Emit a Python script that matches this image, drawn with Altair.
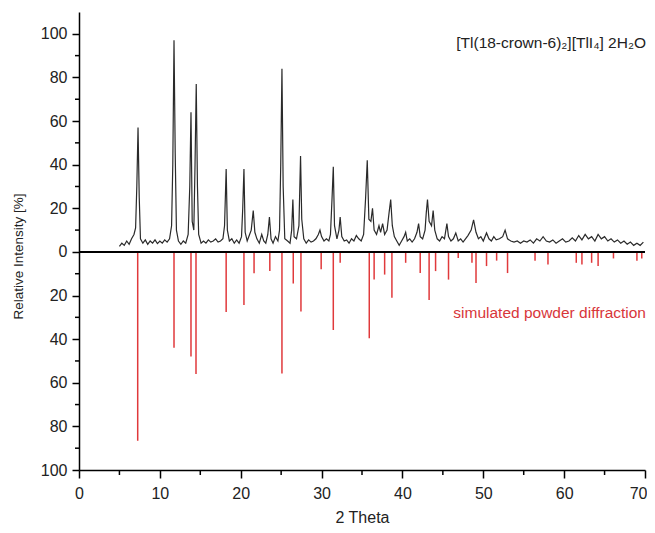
import altair as alt
import pandas as pd

# ---------------- data ----------------
exp_theta = [5.0, 5.3, 5.6, 5.9, 6.2, 6.5, 6.8, 7.0, 7.15, 7.3, 7.45, 7.6, 7.9, 8.2, 8.5, 8.8,
             9.1, 9.4, 9.7, 10.0, 10.3, 10.6, 10.9, 11.2, 11.45, 11.6, 11.75, 11.9, 12.05, 12.3,
             12.6, 12.9, 13.2, 13.5, 13.7, 13.85, 14.0, 14.2, 14.35, 14.5, 14.65, 14.8, 15.1,
             15.4, 15.7, 16.0, 16.3, 16.6, 16.9, 17.2, 17.5, 17.8, 18.0, 18.2, 18.35, 18.6, 18.9,
             19.2, 19.5, 19.8, 20.1, 20.25, 20.4, 20.55, 20.8, 21.1, 21.3, 21.55, 21.75, 22.0,
             22.3, 22.6, 22.85, 23.1, 23.35, 23.55, 23.75, 24.0, 24.3, 24.6, 24.8, 24.95, 25.1,
             25.25, 25.45, 25.8, 26.1, 26.3, 26.45, 26.6, 26.9, 27.2, 27.4, 27.55, 27.8, 28.1,
             28.4, 28.7, 29.0, 29.3, 29.6, 29.8, 30.0, 30.3, 30.6, 30.9, 31.1, 31.3, 31.45, 31.6,
             31.9, 32.15, 32.3, 32.5, 32.8, 33.1, 33.4, 33.7, 34.0, 34.3, 34.6, 34.9, 35.2, 35.45,
             35.65, 35.85, 36.1, 36.3, 36.5, 36.8, 37.1, 37.3, 37.55, 37.8, 38.1, 38.35, 38.55,
             38.75, 39.0, 39.3, 39.6, 39.9, 40.2, 40.4, 40.6, 40.9, 41.2, 41.5, 41.8, 42.0, 42.2,
             42.5, 42.8, 42.95, 43.1, 43.3, 43.6, 43.8, 44.0, 44.3, 44.6, 44.9, 45.2, 45.5, 45.7,
             46.0, 46.3, 46.6, 46.9, 47.2, 47.5, 47.8, 48.1, 48.5, 48.8, 49.1, 49.4, 49.7, 50.0,
             50.4, 50.7, 51.0, 51.3, 51.6, 52.0, 52.4, 52.7, 53.0, 53.4, 53.8, 54.2, 54.6, 55.0,
             55.4, 55.8, 56.2, 56.6, 57.0, 57.4, 57.8, 58.2, 58.6, 59.0, 59.4, 59.8, 60.2, 60.6,
             61.0, 61.4, 61.8, 62.2, 62.6, 63.0, 63.4, 63.8, 64.2, 64.6, 65.0, 65.4, 65.8, 66.2,
             66.6, 67.0, 67.4, 67.8, 68.2, 68.6, 69.0, 69.4, 69.8]
exp_int = [2.5, 4.0, 3.0, 5.0, 3.5, 6.0, 8.0, 11, 30, 57, 25, 6, 4, 5.5, 3.5, 5,
           4, 5.5, 3.8, 5, 4, 5.5, 4.5, 6, 12, 40, 97, 45, 10, 5,
           3.5, 5, 4, 8, 30, 64, 14, 10, 40, 77, 30, 8, 4,
           5, 4, 5.5, 4.5, 5, 6, 4.5, 5, 6, 12, 38, 10, 5, 6,
           4, 5.5, 4, 7, 20, 38, 9, 5, 8, 10, 19, 9, 6,
           4, 8, 5, 4, 8, 16, 6, 4, 7, 5, 10, 40, 84,
           30, 6, 5, 4, 10, 24, 7, 6, 12, 44, 15, 6, 4,
           5.5, 4.5, 5, 6, 8, 10, 7, 5, 6, 5, 8, 25, 39, 12,
           6, 10, 16, 7, 5, 5.5, 4, 6, 5, 7.5, 6, 5, 8, 25,
           42, 15, 14, 20, 10, 8, 12, 9, 13, 8, 10, 18, 24,
           12, 7, 5, 3, 5, 7, 9, 5, 6, 4.5, 6, 9, 13, 7,
           6, 10, 18, 24, 14, 12, 19, 10, 6, 5, 7, 6, 13, 7,
           5, 6, 8.7, 5, 6, 4.5, 6, 7.5, 10, 14.7, 9, 6, 7, 5,
           8.7, 6, 5, 7, 5.5, 6, 7, 10, 6, 5, 4.5, 5, 4, 5,
           4.5, 5.5, 4, 6, 5, 7, 5, 4.5, 5.5, 4, 5, 6, 4.5, 5,
           6.5, 5, 7.5, 5.5, 8, 6, 7, 5, 8, 6, 7, 5, 6, 4.5,
           5.5, 4, 5, 3.5, 4.5, 3, 4, 3, 4.5]

sim_theta = [7.26, 11.75, 13.85, 14.47, 18.2, 20.4, 21.65, 23.6, 25.1, 26.5, 27.45, 29.95,
             31.45, 32.3, 35.9, 36.5, 37.8, 38.7, 40.4, 42.2, 43.3, 44.1, 45.7, 46.9, 48.6,
             49.1, 50.4, 51.65, 53.0, 56.4, 58.0, 61.5, 62.2, 63.4, 64.2, 66.1, 69.0, 69.6]
sim_int = [86.6, 44, 48, 56, 27.5, 24.4, 9.8, 8.7, 55.8, 14.5, 27.3, 8,
           35.8, 5, 39.6, 12.7, 10.4, 21, 5, 9.7, 22, 8.8, 12.7, 2.8, 5,
           14.3, 6.5, 4, 9.7, 4, 5.8, 5, 5.8, 5, 6.5, 3, 4, 3]

x_major = [0, 10, 20, 30, 40, 50, 60, 70]
x_minor = [5, 15, 25, 35, 45, 55, 65]
y_major = [-100, -80, -60, -40, -20, 0, 20, 40, 60, 80, 100]
y_minor = [-90, -70, -50, -30, -10, 10, 30, 50, 70, 90]

formula_text = "[Tl(18-crown-6)\u2082][TlI\u2084] 2H\u2082O"
sim_label = "simulated powder diffraction"
x_title = "2 Theta"
y_title = "Relative Intensity [%]"

# ---------------- chart ----------------
W, H = 566, 458
FONT = "Liberation Sans"
TXT = "#222222"

exp_df = pd.DataFrame({"theta": exp_theta, "intensity": exp_int})
sim_df = pd.DataFrame({"theta": sim_theta, "neg": [-v for v in sim_int]})

xscale = alt.Scale(domain=[0, 70], nice=False, zero=False)
yscale = alt.Scale(domain=[-100, 110], nice=False, zero=False)

last_x = x_major[-1]
xaxis = alt.Axis(title=x_title, values=x_major, format="d", grid=False, labelFlush=False,
                 labelAlign={"condition": {"test": f"datum.value == {last_x}", "value": "right"},
                             "value": "center"},
                 labelOffset={"condition": {"test": f"datum.value == {last_x}", "value": 2},
                              "value": 0},
                 domainColor="black", domainWidth=1.5, tickColor="black", tickWidth=1.5,
                 tickSize=8, labelPadding=7, labelFont=FONT, labelFontSize=16, labelColor=TXT,
                 titleFont=FONT, titleFontSize=16, titleFontWeight="normal", titleColor=TXT,
                 titleBaseline="middle", titleY=47)
yaxis = alt.Axis(title=y_title, values=y_major, labelExpr="format(abs(datum.value), 'd')",
                 grid=False, labelFlush=False, domainColor="black", domainWidth=1.5,
                 tickColor="black", tickWidth=1.5, tickSize=7, labelPadding=5, labelFont=FONT,
                 labelFontSize=16, labelColor=TXT, titleFont=FONT, titleFontSize=13.5,
                 titleFontWeight="normal", titleColor=TXT, titleBaseline="middle",
                 titleX=-61, titleY=244)

X = lambda f: alt.X(f, scale=xscale, axis=xaxis)
Y = lambda f: alt.Y(f, scale=yscale, axis=yaxis)

sticks = alt.Chart(sim_df).mark_rule(color="#e0393b", strokeWidth=1.5).encode(
    x=X("theta:Q"),
    y=Y("neg:Q"),
    y2=alt.datum(0),
)

zero_line = alt.Chart(sim_df).mark_rule(color="black", strokeWidth=2).encode(
    x=alt.X("min_t:Q", scale=xscale, axis=xaxis),
    x2="max_t:Q",
    y=alt.Y("zero:Q", scale=yscale, axis=yaxis),
).transform_calculate(min_t="0", max_t="70", zero="0")

exp_line = alt.Chart(exp_df).mark_line(color="#2a2a2a", strokeWidth=1.2).encode(
    x=X("theta:Q"),
    y=Y("intensity:Q"),
)

y_minor_ticks = alt.Chart(pd.DataFrame({"v": y_minor})).mark_rule(
    color="black", strokeWidth=1.5).encode(
    y=Y("v:Q"),
    x=alt.value(-4), x2=alt.value(0),
)
x_minor_ticks = alt.Chart(pd.DataFrame({"v": x_minor})).mark_rule(
    color="black", strokeWidth=1.5).encode(
    x=X("v:Q"),
    y=alt.value(H), y2=alt.value(H + 5),
)

formula = alt.Chart(pd.DataFrame({"t": [formula_text]})).mark_text(
    align="right", baseline="middle", font=FONT, fontSize=15.5, color=TXT).encode(
    text="t:N", x=alt.value(W + 1), y=alt.value(31),
)
sim_text = alt.Chart(pd.DataFrame({"t": [sim_label]})).mark_text(
    align="right", baseline="middle", font=FONT, fontSize=15.5, color="#d8363a").encode(
    text="t:N", x=alt.value(W + 1), y=alt.value(301),
)

chart = alt.layer(
    sticks, zero_line, exp_line, y_minor_ticks, x_minor_ticks, formula, sim_text
).properties(
    width=W, height=H,
    autosize=alt.AutoSizeParams(type="none"),
    padding={"left": 71, "top": 4, "right": 2, "bottom": 54},
).configure(background="white").configure_view(stroke=None)

chart.save("out.html", embed_options={"renderer": "svg", "actions": False})
